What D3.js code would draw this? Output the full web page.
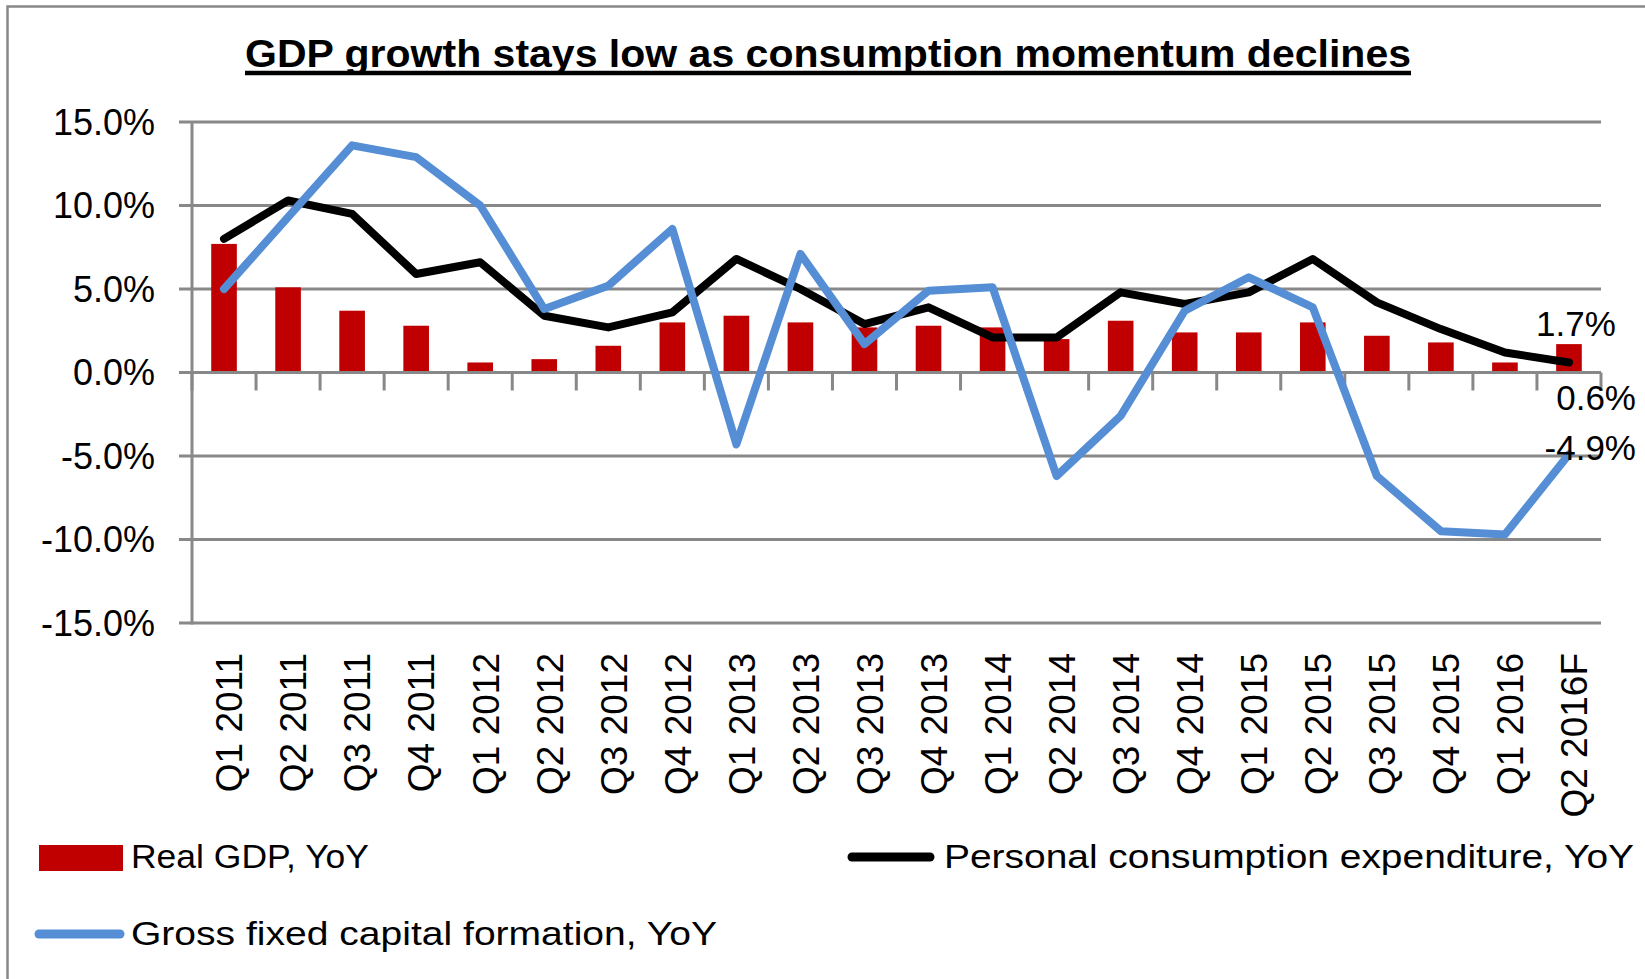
<!DOCTYPE html>
<html>
<head>
<meta charset="utf-8">
<script src="https://cdn.jsdelivr.net/npm/d3@7"></script>
<style>
  html, body { margin: 0; padding: 0; background: #fff; }
  svg { display: block; }
  text { font-family: "Liberation Sans", Arial, sans-serif; }
</style>
</head>
<body>
<svg id="chart" width="1645" height="979"></svg>
<script>
const quarters = ["Q1 2011", "Q2 2011", "Q3 2011", "Q4 2011", "Q1 2012", "Q2 2012", "Q3 2012", "Q4 2012",
  "Q1 2013", "Q2 2013", "Q3 2013", "Q4 2013", "Q1 2014", "Q2 2014", "Q3 2014", "Q4 2014",
  "Q1 2015", "Q2 2015", "Q3 2015", "Q4 2015", "Q1 2016", "Q2 2016F"];
const realGdp = [7.7, 5.1, 3.7, 2.8, 0.6, 0.8, 1.6, 3.0, 3.4, 3.0, 2.7, 2.8, 2.7, 2.0, 3.1, 2.4, 2.4, 3.0, 2.2, 1.8, 0.6, 1.7];
const pce = [8.0, 10.3, 9.5, 5.9, 6.6, 3.4, 2.7, 3.6, 6.8, 5.0, 2.9, 3.9, 2.1, 2.1, 4.8, 4.1, 4.8, 6.8, 4.2, 2.6, 1.2, 0.6];
const gfcf = [5.0, 9.3, 13.6, 12.9, 10.0, 3.8, 5.2, 8.6, -4.3, 7.1, 1.7, 4.9, 5.1, -6.2, -2.6, 3.7, 5.7, 3.9, -6.2, -9.5, -9.7, -4.9];
const yTicks = [15, 10, 5, 0, -5, -10, -15];
const seriesNames = ["Real GDP, YoY", "Personal consumption expenditure, YoY", "Gross fixed capital formation, YoY"];

const RED = "#C00000", BLACK = "#000000", BLUE = "#558ED5", GRID = "#888888";
const svg = d3.select("#chart");

// outer frame
svg.append("rect")
  .attr("x", 7.5).attr("y", 6.5).attr("width", 1700).attr("height", 1100)
  .attr("fill", "none").attr("stroke", GRID).attr("stroke-width", 2.5);

const x = d3.scaleBand().domain(quarters).range([192, 1601]).paddingInner(0).paddingOuter(0);
const y = d3.scaleLinear().domain([-15, 15]).range([623, 122]);
const fmt = d => d.toFixed(1) + "%";

// title
const title = svg.append("text")
  .attr("x", 828).attr("y", 67)
  .attr("text-anchor", "middle")
  .attr("font-weight", "bold")
  .attr("font-size", 38)
  .attr("textLength", 1166)
  .attr("lengthAdjust", "spacingAndGlyphs")
  .text("GDP growth stays low as consumption momentum declines");
const tb = title.node().getBBox();
svg.append("line")
  .attr("x1", tb.x).attr("x2", tb.x + tb.width)
  .attr("y1", 73).attr("y2", 73)
  .attr("stroke", "#000").attr("stroke-width", 4.5);

// gridlines
svg.append("g").selectAll("line")
  .data(yTicks.filter(d => d !== 0))
  .join("line")
  .attr("x1", 179).attr("x2", 1601)
  .attr("y1", d => y(d)).attr("y2", d => y(d))
  .attr("stroke", GRID).attr("stroke-width", 3);

// y axis line
svg.append("line")
  .attr("x1", 192).attr("x2", 192).attr("y1", y(15)).attr("y2", y(-15) + 1.5)
  .attr("stroke", GRID).attr("stroke-width", 3);

// y tick labels
svg.append("g").selectAll("text")
  .data(yTicks)
  .join("text")
  .attr("x", 155).attr("y", d => y(d) + 12.5)
  .attr("text-anchor", "end")
  .attr("font-size", 36)
  .text(fmt);

// bars
svg.append("g").selectAll("rect")
  .data(realGdp)
  .join("rect")
  .attr("x", (d, i) => x(quarters[i]) + x.bandwidth() * 0.3)
  .attr("width", x.bandwidth() * 0.4)
  .attr("y", d => y(Math.max(0, d)))
  .attr("height", d => Math.abs(y(d) - y(0)))
  .attr("fill", RED);

// x axis line and ticks
svg.append("line")
  .attr("x1", 179).attr("x2", 1601).attr("y1", y(0)).attr("y2", y(0))
  .attr("stroke", GRID).attr("stroke-width", 3);
svg.append("g").selectAll("line")
  .data(d3.range(quarters.length + 1))
  .join("line")
  .attr("x1", i => 192 + i * x.bandwidth()).attr("x2", i => 192 + i * x.bandwidth())
  .attr("y1", y(0)).attr("y2", y(0) + 18)
  .attr("stroke", GRID).attr("stroke-width", 3);

// x labels
svg.append("g").selectAll("text")
  .data(quarters)
  .join("text")
  .attr("transform", d => `translate(${x(d) + x.bandwidth() / 2 + 5},653) rotate(-90)`)
  .attr("text-anchor", "end")
  .attr("dy", "0.36em")
  .attr("font-size", 37)
  .text(d => d);

// lines
const cx = i => x(quarters[i]) + x.bandwidth() / 2;
const line = d3.line().x((d, i) => cx(i)).y(d => y(d));
svg.append("path")
  .attr("d", line(pce))
  .attr("fill", "none").attr("stroke", BLACK).attr("stroke-width", 8)
  .attr("stroke-linejoin", "round").attr("stroke-linecap", "round");
svg.append("path")
  .attr("d", line(gfcf))
  .attr("fill", "none").attr("stroke", BLUE).attr("stroke-width", 8)
  .attr("stroke-linejoin", "round").attr("stroke-linecap", "round");

// data labels on last point
const last = quarters.length - 1;
svg.append("text")
  .attr("x", cx(last) + 7).attr("y", y(realGdp[last]) - 8)
  .attr("text-anchor", "middle").attr("font-size", 35)
  .text(fmt(realGdp[last]));
svg.append("text")
  .attr("x", cx(last) + 67).attr("y", y(pce[last]) + 48)
  .attr("text-anchor", "end").attr("font-size", 35)
  .text(fmt(pce[last]));
svg.append("text")
  .attr("x", cx(last) + 67).attr("y", y(gfcf[last]) + 6)
  .attr("text-anchor", "end").attr("font-size", 35)
  .text(fmt(gfcf[last]));

// legend
const lg = svg.append("g");
lg.append("rect").attr("x", 39).attr("y", 845).attr("width", 84).attr("height", 26).attr("fill", RED);
lg.append("text").attr("x", 131).attr("y", 868).attr("font-size", 34)
  .attr("textLength", 238).attr("lengthAdjust", "spacingAndGlyphs").text(seriesNames[0]);
lg.append("line").attr("x1", 852).attr("x2", 930).attr("y1", 857).attr("y2", 857)
  .attr("stroke", BLACK).attr("stroke-width", 9).attr("stroke-linecap", "round");
lg.append("text").attr("x", 944).attr("y", 868).attr("font-size", 34)
  .attr("textLength", 690).attr("lengthAdjust", "spacingAndGlyphs").text(seriesNames[1]);
lg.append("line").attr("x1", 39).attr("x2", 120).attr("y1", 934).attr("y2", 934)
  .attr("stroke", BLUE).attr("stroke-width", 9).attr("stroke-linecap", "round");
lg.append("text").attr("x", 131).attr("y", 945).attr("font-size", 34)
  .attr("textLength", 586).attr("lengthAdjust", "spacingAndGlyphs").text(seriesNames[2]);
</script>
</body>
</html>
